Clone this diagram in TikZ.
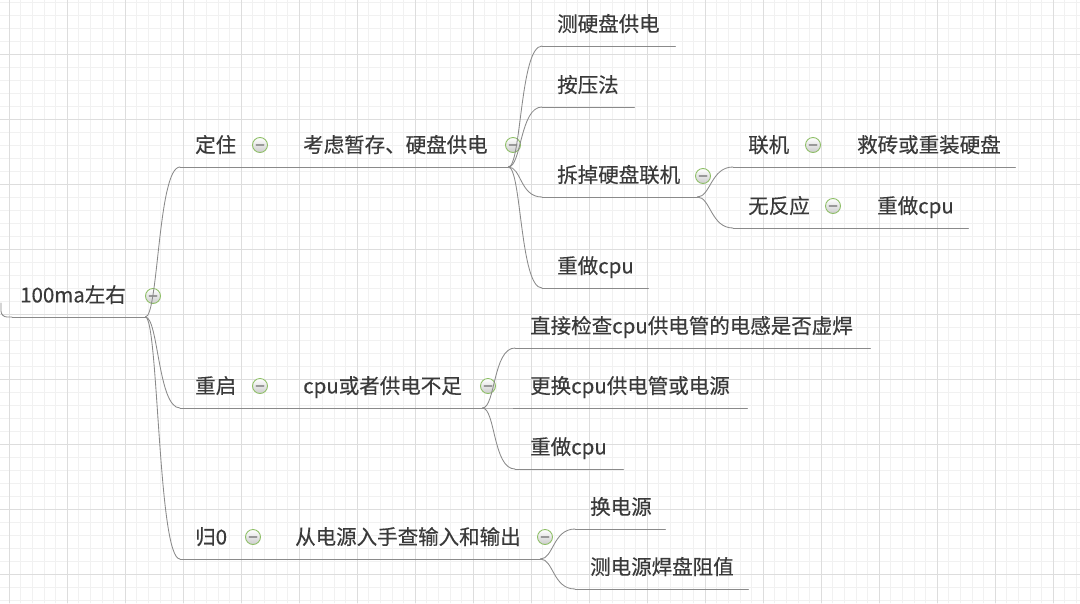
\documentclass[tikz,border=0pt]{standalone}
\usepackage{fontspec}
\newfontfamily\cjkfont[UprightFeatures={FakeBold=0.35}]{Noto Sans CJK SC}
\definecolor{ink}{HTML}{3A3A3A}
\definecolor{linegray}{HTML}{8A8A8A}
\definecolor{foldgreen}{HTML}{8FBF68}
\definecolor{gridminor}{HTML}{F1F1F1}
\definecolor{gridmajor}{HTML}{DDDDDD}

\begin{document}
\begin{tikzpicture}[x=1pt,y=-1pt,line cap=round,line join=round,
  rule/.style={draw=linegray, line width=0.85pt},
  topic/.style={font=\cjkfont\fontsize{20.5}{24}\selectfont, text=ink, text width=#1, align=left,
    inner xsep=15pt, inner ysep=0pt, text height=16pt, text depth=14.4pt, anchor=south west,
    append after command={(\tikzlastnode.south west) edge[rule] (\tikzlastnode.south east)}},
  fold/.style={circle, draw=foldgreen, line width=0.9pt, minimum size=15pt, inner sep=0pt,
    top color=white, bottom color=gray!40,
    path picture={\draw[gray!80, line width=1.4pt]
      ([xshift=-3.8pt]path picture bounding box.center) -- ([xshift=3.8pt]path picture bounding box.center);}},
  branch/.style={rule, out=0, in=180, out distance=13pt, in distance=22pt}]
  \useasboundingbox (0,0) rectangle (1080,603);
  \fill[white] (0,0) rectangle (1080,603);
  % grid
  \foreach \gx in {-2.6,9.0,...,1080} \draw[gridminor, line width=0.6pt] (\gx,0) -- (\gx,603);
  \foreach \gy in {2,15,...,603} \draw[gridminor, line width=0.6pt] (0,\gy) -- (1080,\gy);
  \foreach \gx in {9,67,...,1080} \draw[gridmajor, line width=0.6pt] (\gx,0) -- (\gx,603);
  \foreach \gy in {54,119,...,603} \draw[gridmajor, line width=0.6pt] (0,\gy) -- (1080,\gy);

  % root
  \node[topic=117, inner xsep=8pt] (root) at (12,317) {100ma左右};
  \draw[rule, rounded corners=6pt] (1,303) |- (root.south west);
  \node[fold] (fr) at (153,296) {};

  % 定住
  \node[topic=78] (dz) at (180,167) {定住};
  \node[fold] (fdz) at (260,145) {};
  \node[topic=190] (kl) at (288,167) {考虑暂存、硬盘供电};
  \node[fold] (fkl) at (513,145) {};
  \node[topic=103] (c1) at (542,46) {测硬盘供电};
  \node[topic=62] (c2) at (542,107) {按压法};
  \node[topic=125] (c3) at (542,197) {拆掉硬盘联机};
  \node[fold] (fc3) at (703,176) {};
  \node[topic=76] (c4) at (542,288) {重做cpu};
  \node[topic=79] (d1) at (733,167) {联机};
  \node[fold] (fd1) at (813,145) {};
  \node[topic=143] (e1) at (842,167) {救砖或重装硬盘};
  \node[topic=99] (d2) at (733,228) {无反应};
  \node[fold] (fd2) at (833,206) {};
  \node[topic=76] (e2) at (862,228) {重做cpu};

  % 重启
  \node[topic=78] (dq) at (180,408) {重启};
  \node[fold] (fdq) at (260,386) {};
  \node[topic=164] (cg) at (288,408) {cpu或者供电不足};
  \node[fold] (fcg) at (488,386) {};
  \node[topic=325] (f1) at (515,348) {直接检查cpu供电管的电感是否虚焊};
  \node[topic=202] (f2) at (515,408) {更换cpu供电管或电源};
  \node[topic=78] (f3) at (515,469) {重做cpu};

  % 归0
  \node[topic=70] (g0) at (180,559) {归0};
  \node[fold] (fg0) at (253,537) {};
  \node[topic=230] (gs) at (280,559) {从电源入手查输入和输出};
  \node[fold] (fgs) at (545,537) {};
  \node[topic=60] (h1) at (575,529) {换电源};
  \node[topic=143] (h2) at (575,589) {测电源焊盘阻值};

  % branches
  \foreach \b in {dz,dq,g0} \draw[branch] (root.south east) to (\b.south west);
  \foreach \b in {c1,c2,c3,c4} \draw[branch] (kl.south east) to (\b.south west);
  \foreach \b in {d1,d2} \draw[branch] (c3.south east) to (\b.south west);
  \foreach \b in {f1,f2,f3} \draw[branch] (cg.south east) to (\b.south west);
  \foreach \b in {h1,h2} \draw[branch] (gs.south east) to (\b.south west);
\end{tikzpicture}
\end{document}
